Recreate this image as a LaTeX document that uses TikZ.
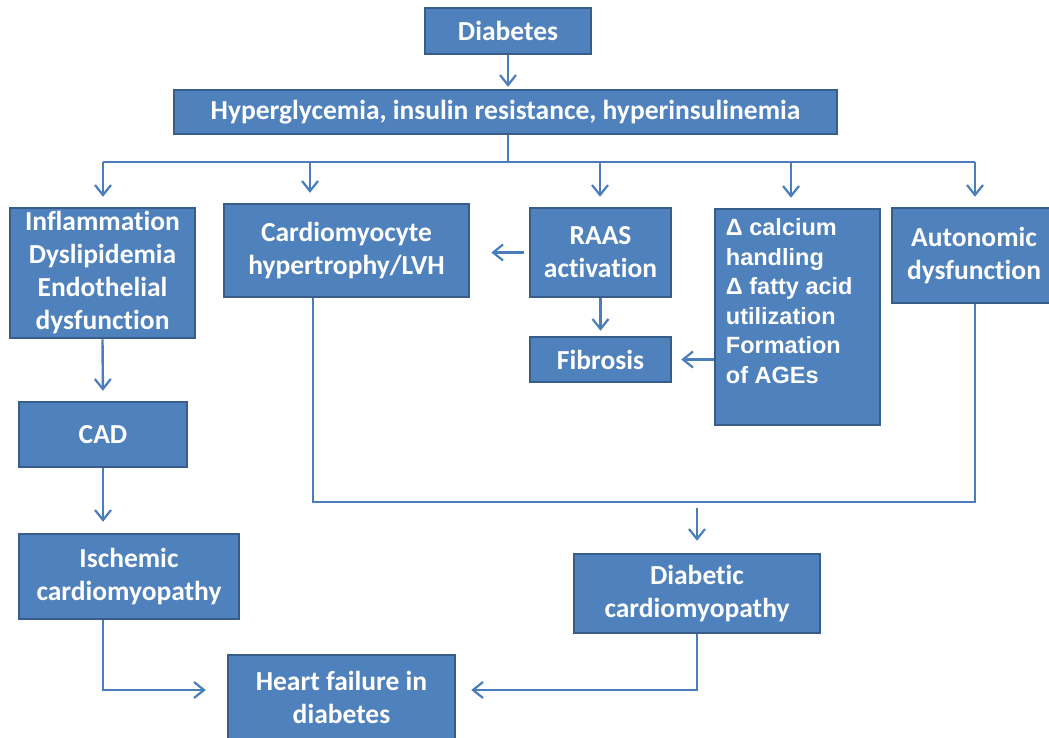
\documentclass[tikz,border=0pt]{standalone}
\usepackage{fontspec}
\usetikzlibrary{positioning,arrows.meta,calc}
\newfontfamily\calib[Ligatures=NoCommon]{Carlito}
\newfontfamily\arialb{Liberation Sans}
\definecolor{boxfill}{HTML}{4F81BD}
\definecolor{boxline}{HTML}{385D8A}
\definecolor{arrline}{HTML}{4A7EBB}

\begin{document}
\begin{tikzpicture}[
  x=1pt, y=-1pt,
  font=\calib\bfseries\fontsize{27.5}{33}\selectfont,
  box/.style={draw=boxline, line width=2.5pt, fill=boxfill, text=white, align=center, inner sep=0pt},
  conn/.style={draw=arrline, line width=2.4pt},
  arr/.style={conn, -{Straight Barb[length=10pt, width=16pt, line width=2.2pt]}}
]
\useasboundingbox (0,0) rectangle (1049,737);

% boxes
\node[box, minimum width=166pt, minimum height=46pt] (diab) at (508,31) {Diabetes};
\node[box, minimum width=663pt, minimum height=44pt] (hyper) at (505.5,112) {Hyperglycemia, insulin resistance, hyperinsulinemia};
\node[box, minimum width=185pt, minimum height=130pt] (infl) at (102.5,273) {Inflammation\\Dyslipidemia\\Endothelial\\dysfunction};
\node[box, minimum width=245pt, minimum height=93pt] (cardio) at (346.5,250.5) {Cardiomyocyte\\hypertrophy/LVH};
\node[box, minimum width=141pt, minimum height=89pt] (raas) at (600.5,252.5) {RAAS\\activation};
\node[box, minimum width=141pt, minimum height=45pt] (fib) at (600.5,359.5) {Fibrosis};
\node[box, minimum width=165pt, minimum height=216pt] (delta) at (797.5,317) {};
\node[anchor=north west, text=white, align=left, inner sep=0pt,
  font=\arialb\bfseries\fontsize{23.5}{29.5}\selectfont] (deltatxt) at ([xshift=12pt, yshift=-11pt]delta.north west)
  {Δ calcium\\handling\\Δ fatty acid\\utilization\\Formation\\of AGEs};
\node[box, minimum width=164pt, minimum height=95pt] (auton) at (974,255.5) {Autonomic\\dysfunction};
\node[box, minimum width=168pt, minimum height=65pt] (cad) at (103,434.5) {CAD};
\node[box, minimum width=220pt, minimum height=85pt] (isch) at (129,576.5) {Ischemic\\cardiomyopathy};
\node[box, minimum width=246pt, minimum height=79pt] (dcm) at (697,593.5) {Diabetic\\cardiomyopathy};
\node[box, minimum width=227pt, minimum height=85pt] (hf) at (341.5,697.5) {Heart failure in\\diabetes};

% top branch
\coordinate (busL) at (103,162);
\coordinate (busR) at (975,162);
\draw[arr, shorten >=2pt] (diab.south) -- (diab.south |- hyper.north);
\draw[conn] (hyper.south -| diab.south) -- (diab.south |- busL);
\draw[conn] (busL) -- (busR);
\foreach \nd/\xx in {infl/103, cardio/310, raas/600, delta/791, auton/975}{
  \coordinate (t\nd) at (\xx,162);
  \draw[arr, shorten >=10pt] (t\nd) -- (t\nd |- \nd.north);
}

% middle
\draw[arr, shorten <=5pt, shorten >=21pt] (raas.west) -- (raas.west -| cardio.east);
\draw[arr, shorten >=5pt] (raas.south) -- (fib.north);
\draw[arr, shorten >=9pt] (fib.east -| delta.west) -- (fib.east);

% left column
\draw[arr, shorten >=10pt] (infl.south) -- (cad.north);
\draw[arr, shorten >=11pt] (cad.south) -- (cad.south |- isch.north);

% collecting line
\coordinate (loopL) at (313,502);
\coordinate (loopR) at (975,502);
\draw[conn] (loopL |- cardio.south) -- (loopL) -- (loopR) -- (loopR |- auton.south);
\draw[arr, shorten <=6pt, shorten >=12pt] (dcm.north |- loopL) -- (dcm.north);

% to heart failure
\draw[arr, shorten >=21pt] (cad.south |- isch.south) |- ([yshift=7.5pt]hf.west);
\draw[arr, shorten >=15pt] (dcm.south) |- ([yshift=7.5pt]hf.east);
\end{tikzpicture}
\end{document}
